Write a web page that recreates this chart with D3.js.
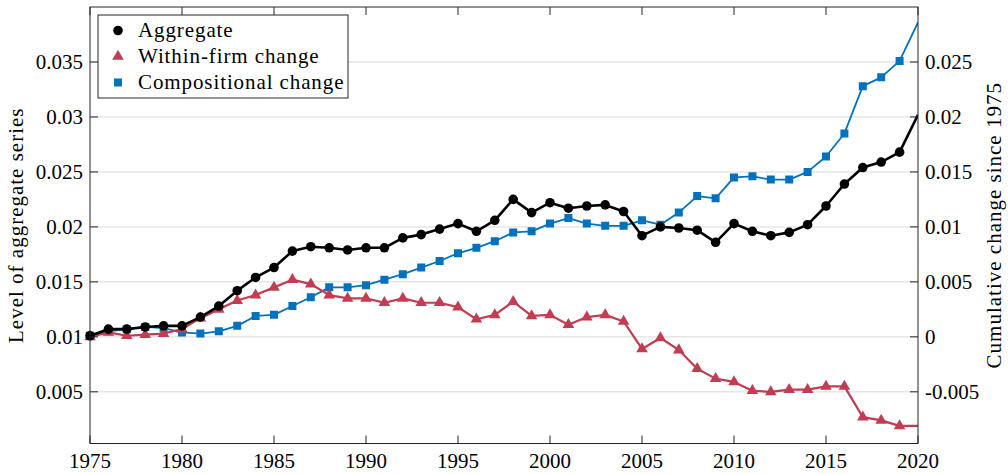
<!DOCTYPE html>
<html>
<head>
<meta charset="utf-8">
<script src="https://cdn.jsdelivr.net/npm/d3@7"></script>
<style>
  html, body { margin: 0; padding: 0; background: #fff; }
  svg { display: block; font-family: "Liberation Serif", "DejaVu Serif", serif; }
</style>
</head>
<body>
<svg id="chart" width="1008" height="474"></svg>
<script>
const years = d3.range(1975, 2021);

const aggregate = [
  0.0101, 0.0107, 0.0107, 0.0109, 0.0110, 0.0110, 0.0118, 0.0128, 0.0142, 0.0154,
  0.0163, 0.0178, 0.0182, 0.0181, 0.0179, 0.0181, 0.0181, 0.0190, 0.0193, 0.0198,
  0.0203, 0.0196, 0.0206, 0.0225, 0.0213, 0.0222, 0.0217, 0.0219, 0.0220, 0.0214,
  0.0192, 0.0200, 0.0199, 0.0197, 0.0186, 0.0203, 0.0196, 0.0192, 0.0195, 0.0202,
  0.0219, 0.0239, 0.0254, 0.0259, 0.0268, 0.0302
];

const withinFirm = [
  0.0100, 0.0104, 0.0101, 0.0102, 0.0103, 0.0107, 0.0117, 0.0125, 0.0133, 0.0138,
  0.0145, 0.0152, 0.0148, 0.0138, 0.0135, 0.0135, 0.0131, 0.0135, 0.0131, 0.0131,
  0.0127, 0.0116, 0.0120, 0.0132, 0.0119, 0.0120, 0.0111, 0.0118, 0.0120, 0.0114,
  0.0089, 0.0099, 0.0088, 0.0071, 0.0062, 0.0059, 0.0051, 0.0050, 0.0052, 0.0052,
  0.0055, 0.0055, 0.0027, 0.0024, 0.0019, 0.0019
];

const compositional = [
  0.0101, 0.0105, 0.0107, 0.0109, 0.0108, 0.0104, 0.0103, 0.0105, 0.0110, 0.0119,
  0.0120, 0.0128, 0.0136, 0.0145, 0.0145, 0.0147, 0.0152, 0.0157, 0.0163, 0.0169,
  0.0176, 0.0181, 0.0187, 0.0195, 0.0196, 0.0203, 0.0208, 0.0203, 0.0201, 0.0201,
  0.0206, 0.0202, 0.0213, 0.0228, 0.0226, 0.0245, 0.0246, 0.0243, 0.0243, 0.0250,
  0.0264, 0.0285, 0.0328, 0.0336, 0.0351, 0.0386
];

const xTicks = [1975, 1980, 1985, 1990, 1995, 2000, 2005, 2010, 2015, 2020];
const leftTicks = [0.005, 0.01, 0.015, 0.02, 0.025, 0.03, 0.035];
const rightTicks = [-0.005, 0, 0.005, 0.01, 0.015, 0.02, 0.025];

const seriesNames = ["Aggregate", "Within-firm change", "Compositional change"];

const plot = { left: 90, right: 918, top: 7, bottom: 443.5 };
const AXIS = "#262626";
const FS = 21;

const svg = d3.select("#chart");

const x = d3.scaleLinear().domain([1975, 2020]).range([plot.left, plot.right]);
const y = d3.scaleLinear().domain([0.0003, 0.04]).range([plot.bottom, plot.top]);
// right axis is the same scale shifted by the 1975 level
const yR = d3.scaleLinear().domain([0.0003 - 0.01, 0.04 - 0.01]).range([plot.bottom, plot.top]);

const fmt = d => String(+d.toFixed(4));

// grid
svg.append("g")
  .selectAll("line")
  .data(leftTicks)
  .join("line")
  .attr("x1", plot.left).attr("x2", plot.right)
  .attr("y1", d => y(d)).attr("y2", d => y(d))
  .attr("stroke", "#e6e6e6")
  .attr("stroke-width", 1.5);

const series = [
  { name: seriesNames[0], values: aggregate, color: "#000000", width: 2.6, marker: "circle", size: 72 },
  { name: seriesNames[1], values: withinFirm, color: "#c23c52", width: 2.2, marker: "triangle", size: 58 },
  { name: seriesNames[2], values: compositional, color: "#0072bd", width: 1.8, marker: "square", size: 64 }
];

const symbolType = { circle: d3.symbolCircle, triangle: d3.symbolTriangle, square: d3.symbolSquare };

svg.append("clipPath").attr("id", "plot-clip")
  .append("rect")
  .attr("x", plot.left - 6).attr("y", plot.top)
  .attr("width", plot.right - plot.left + 6).attr("height", plot.bottom - plot.top);

const line = d3.line().x(d => x(d[0])).y(d => y(d[1]));

// draw in reverse so aggregate sits on top
[...series].reverse().forEach(s => {
  const pts = years.map((yr, i) => [yr, s.values[i]]);
  const g = svg.append("g").attr("clip-path", "url(#plot-clip)");
  g.append("path")
    .attr("d", line(pts))
    .attr("fill", "none")
    .attr("stroke", s.color)
    .attr("stroke-width", s.width)
    .attr("stroke-linejoin", "round");
  g.selectAll("path.m")
    .data(pts.slice(0, -1))
    .join("path")
    .attr("class", "m")
    .attr("transform", d => `translate(${x(d[0])},${y(d[1])})`)
    .attr("d", d3.symbol().type(symbolType[s.marker]).size(s.size)())
    .attr("fill", s.color);
});

// axes box
const axes = svg.append("g").attr("stroke", AXIS).attr("stroke-width", 1);
axes.append("rect")
  .attr("x", plot.left).attr("y", plot.top)
  .attr("width", plot.right - plot.left).attr("height", plot.bottom - plot.top)
  .attr("fill", "none");

const TL = 8;
xTicks.forEach(t => {
  axes.append("line").attr("x1", x(t)).attr("x2", x(t)).attr("y1", plot.bottom).attr("y2", plot.bottom - TL);
  axes.append("line").attr("x1", x(t)).attr("x2", x(t)).attr("y1", plot.top).attr("y2", plot.top + TL);
});
leftTicks.forEach(t => {
  axes.append("line").attr("x1", plot.left).attr("x2", plot.left + TL).attr("y1", y(t)).attr("y2", y(t));
});
rightTicks.forEach(t => {
  axes.append("line").attr("x1", plot.right).attr("x2", plot.right - TL).attr("y1", yR(t)).attr("y2", yR(t));
});

// tick labels
svg.append("g").selectAll("text")
  .data(xTicks).join("text")
  .attr("x", d => x(d)).attr("y", 468)
  .attr("text-anchor", "middle")
  .attr("font-size", FS).attr("fill", "#000")
  .text(d => d);

svg.append("g").selectAll("text")
  .data(leftTicks).join("text")
  .attr("x", 83).attr("y", d => y(d)).attr("dy", "0.35em")
  .attr("text-anchor", "end")
  .attr("font-size", FS).attr("fill", "#000")
  .text(fmt);

svg.append("g").selectAll("text")
  .data(rightTicks).join("text")
  .attr("x", 925).attr("y", d => yR(d)).attr("dy", "0.35em")
  .attr("text-anchor", "start")
  .attr("font-size", FS).attr("fill", "#000")
  .text(fmt);

// axis titles
svg.append("text")
  .attr("transform", `translate(23,${(plot.top + plot.bottom) / 2}) rotate(-90)`)
  .attr("text-anchor", "middle")
  .attr("font-size", FS).attr("letter-spacing", 1).attr("fill", "#000")
  .text("Level of aggregate series");

svg.append("text")
  .attr("transform", `translate(1001,${(plot.top + plot.bottom) / 2}) rotate(-90)`)
  .attr("text-anchor", "middle")
  .attr("font-size", FS).attr("letter-spacing", 1).attr("fill", "#000")
  .text("Cumulative change since 1975");

// legend
const legend = svg.append("g").attr("transform", "translate(98,15)");
legend.append("rect")
  .attr("width", 250).attr("height", 83)
  .attr("fill", "#fff").attr("stroke", AXIS).attr("stroke-width", 1);
series.forEach((s, i) => {
  const cy = 15.5 + i * 26;
  legend.append("path")
    .attr("transform", `translate(20,${cy})`)
    .attr("d", d3.symbol().type(symbolType[s.marker]).size(s.size)())
    .attr("fill", s.color);
  legend.append("text")
    .attr("x", 40).attr("y", cy).attr("dy", "0.33em")
    .attr("font-size", FS).attr("letter-spacing", 0.9).attr("fill", "#000")
    .text(s.name);
});
</script>
</body>
</html>
